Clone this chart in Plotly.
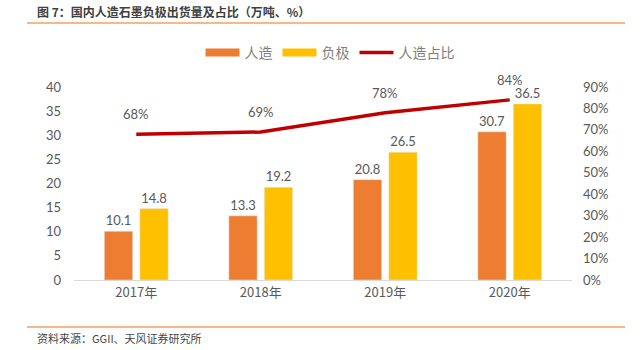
import plotly.graph_objects as go

years = ["2017年", "2018年", "2019年", "2020年"]
artificial = [10.1, 13.3, 20.8, 30.7]
anode = [14.8, 19.2, 26.5, 36.5]
share = [0.68, 0.69, 0.78, 0.84]
share_labels = ["68%", "69%", "78%", "84%"]
left_ticks = [0, 5, 10, 15, 20, 25, 30, 35, 40]
right_ticks = [0, 0.1, 0.2, 0.3, 0.4, 0.5, 0.6, 0.7, 0.8, 0.9]

FONT = "Lato, Noto Sans CJK SC, sans-serif"
CJK = "Noto Sans CJK SC, sans-serif"
GREY = "#595959"
C_ART, C_ANO, C_SHARE = "#ED7D31", "#FFC000", "#C00000"

L, R, T, B = 74, 68, 87, 70
W, H = 640, 350
pw, ph = W - L - R, H - T - B


def px(x):
    return (x - L) / pw


def py(y):
    return (H - B - y) / ph


fig = go.Figure()
fig.add_trace(go.Bar(x=years, y=artificial, name="人造", marker_color=C_ART, showlegend=False,
                     text=[f"{v:.1f}" for v in artificial], textposition="outside",
                     textfont=dict(size=13, color=GREY, family=FONT), cliponaxis=False))
fig.add_trace(go.Bar(x=years, y=anode, name="负极", marker_color=C_ANO, showlegend=False,
                     text=[f"{v:.1f}" for v in anode], textposition="outside",
                     textfont=dict(size=13, color=GREY, family=FONT), cliponaxis=False))
fig.add_trace(go.Scatter(x=years, y=share, name="人造占比", yaxis="y2", mode="lines",
                         line=dict(color=C_SHARE, width=3.5), showlegend=False))

# legend entries (wide swatches like the reference)
for nm, col, wd in [("人造", C_ART, 8), ("负极", C_ANO, 8), ("人造占比", C_SHARE, 3.5)]:
    fig.add_trace(go.Scatter(x=[None], y=[None], name=nm, mode="lines",
                             line=dict(color=col, width=wd), showlegend=True))

annotations = []
for yr, s, lab in zip(years, share, share_labels):
    annotations.append(dict(x=yr, y=s, xref="x", yref="y2", text=lab, showarrow=False,
                            yshift=20, font=dict(size=13, color=GREY, family=FONT)))

annotations.append(dict(x=px(35), y=py(12), xref="paper", yref="paper",
                        text="<b>图 7：国内人造石墨负极出货量及占比（万吨、%）</b>",
                        showarrow=False, xanchor="left", yanchor="middle",
                        font=dict(size=12, color="#404040", family=CJK)))
annotations.append(dict(x=px(35), y=py(338), xref="paper", yref="paper",
                        text="资料来源：GGII、天风证券研究所",
                        showarrow=False, xanchor="left", yanchor="middle",
                        font=dict(size=11, color="#444444", family=CJK)))

shapes = [
    dict(type="line", xref="paper", yref="paper", x0=px(27), x1=px(625), y0=py(23), y1=py(23),
         line=dict(color="#F4A15F", width=1.5)),
    dict(type="line", xref="paper", yref="paper", x0=px(27), x1=px(625), y0=py(327), y1=py(327),
         line=dict(color="#F4A15F", width=1.5)),
]

fig.update_layout(
    width=W, height=H,
    margin=dict(l=L, r=R, t=T, b=B, pad=0),
    paper_bgcolor="white", plot_bgcolor="white",
    font=dict(family=FONT, color=GREY, size=13),
    barmode="group", bargap=0.43, bargroupgap=0.2,
    showlegend=True,
    legend=dict(orientation="h", x=px(330), y=py(53), xanchor="center", yanchor="middle",
                font=dict(size=14, color="#7F7F7F", family=CJK), itemwidth=34,
                bgcolor="rgba(0,0,0,0)"),
    xaxis=dict(showgrid=False, showline=True, linecolor="#D9D9D9", linewidth=1,
               ticks="", tickfont=dict(size=13, color=GREY, family=CJK)),
    yaxis=dict(range=[0, 40], tickvals=left_ticks, showgrid=False, zeroline=False,
               showline=False, ticks="", tickfont=dict(size=13, color=GREY), ticklabelstandoff=12),
    yaxis2=dict(range=[0, 0.9], tickvals=right_ticks, tickformat=".0%", overlaying="y",
                side="right", showgrid=False, zeroline=False, showline=False, ticks="",
                tickfont=dict(size=13, color=GREY), ticklabelstandoff=10),
    annotations=annotations,
    shapes=shapes,
)

fig.write_html("out.html")
